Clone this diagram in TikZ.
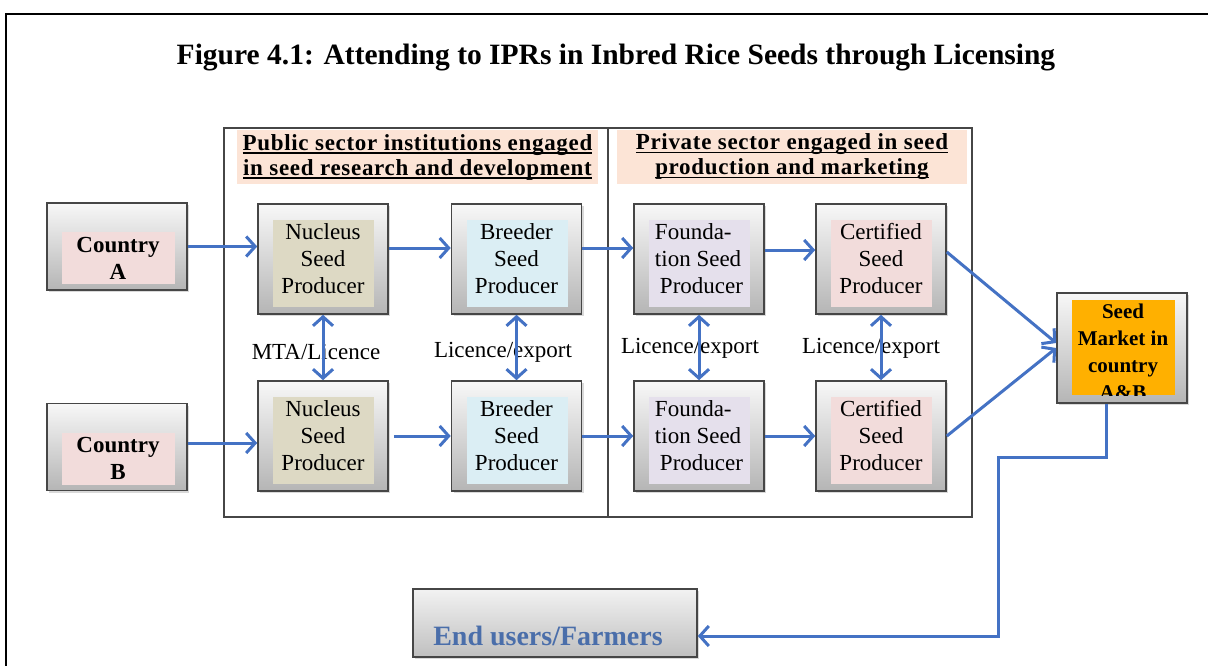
\documentclass[tikz,border=0pt]{standalone}
\usepackage{fontspec}
\setmainfont{Liberation Serif}
\newcommand\ulbar[1]{\setbox0\hbox{#1}\rlap{\rule[-3.5pt]{\wd0}{1.6pt}}\box0}
\usetikzlibrary{arrows.meta,shadows}
\definecolor{flowblue}{RGB}{68,114,196}
\definecolor{boxedge}{RGB}{70,70,70}
\definecolor{pinkfill}{RGB}{242,220,219}
\definecolor{tanfill}{RGB}{221,217,196}
\definecolor{bluefill}{RGB}{219,238,244}
\definecolor{lilacfill}{RGB}{229,224,236}
\definecolor{marketfill}{RGB}{255,176,0}
\definecolor{peachfill}{RGB}{252,228,214}
\definecolor{userblue}{RGB}{74,110,170}
\newcommand\cellfont{\fontsize{23}{27}\selectfont}
\newcommand\cellbold{\fontsize{23}{27}\selectfont\bfseries}
\newcommand\hdrfont{\fontsize{23}{25}\selectfont\bfseries\addfontfeatures{LetterSpace=3}}
\newcommand\ttlfont{\fontsize{29.5}{32}\selectfont\bfseries}
\newcommand\usrfont{\fontsize{28}{30}\selectfont\bfseries}
\newcommand\mktfont{\fontsize{21}{27}\selectfont\bfseries}
\tikzset{
  flow/.style={draw=flowblue, line width=3pt, -{Straight Barb[length=9pt,width=20pt]}},
  twoway/.style={flow, {Straight Barb[length=9pt,width=20pt]}-{Straight Barb[length=9pt,width=20pt]}},
  framebox/.style={draw=boxedge, line width=1.6pt, top color=gray!6, bottom color=gray!58,
    drop shadow={shadow xshift=2pt,shadow yshift=-2pt,opacity=.3}, inner sep=0pt},
  seedbox/.style={framebox, minimum width=130pt, minimum height=110pt, align=center, font=\cellfont,
    path picture={\fill[#1] ([xshift=15pt,yshift=-16pt]path picture bounding box.north west)
      rectangle ([xshift=-14pt,yshift=7pt]path picture bounding box.south east);}},
  countrybox/.style={framebox, minimum width=140pt, minimum height=87pt,
    path picture={\fill[pinkfill] ([xshift=15pt,yshift=-29pt]path picture bounding box.north west)
      rectangle ([xshift=-12pt,yshift=6pt]path picture bounding box.south east);}},
  marketbox/.style={framebox, minimum width=130pt, minimum height=110pt,
    path picture={\fill[marketfill] ([xshift=15pt,yshift=-7pt]path picture bounding box.north west)
      rectangle ([xshift=-12pt,yshift=8pt]path picture bounding box.south east);}},
  hdrband/.style={fill=peachfill, minimum height=54pt, align=center, font=\hdrfont, inner sep=0pt},
  lbl/.style={font=\cellfont, inner sep=0pt},
  panelline/.style={draw=boxedge, line width=1.5pt}
}
\begin{document}
\begin{tikzpicture}[x=1pt,y=-1pt]
\useasboundingbox (0,0) rectangle (1208,666);
\draw[line width=1.5pt] (6,666) -- (6,14) -- (1208,14);
\node[font=\ttlfont] (title) at (616,58) {Figure 4.1: Attending to IPRs in Inbred Rice Seeds through Licensing};

% public and private panels
\draw[panelline] (224,128) rectangle (972,517);
\draw[panelline] (608,128) -- (608,517);
\node[hdrband, minimum width=361pt] (pubhdr) at (417.5,157) {\ulbar{Public sector institutions engaged}\\\ulbar{in seed research and development}};
\node[hdrband, minimum width=350pt] (prvhdr) at (792,157) {\ulbar{Private sector engaged in seed}\\\ulbar{production and marketing}};

% countries
\node[countrybox] (cA) at (117,246.5) {};
\node[font=\cellbold, align=center] (cAtxt) at (118,258.5) {Country\\A};
\node[countrybox] (cB) at (117,447) {};
\node[font=\cellbold, align=center] (cBtxt) at (118,458) {Country\\B};

% producers
\node[seedbox=tanfill] (nucA) at (323,259) {Nucleus\\Seed\\Producer};
\node[seedbox=bluefill] (brdA) at (516.5,259) {Breeder\\Seed\\Producer};
\node[seedbox=lilacfill, align=left] (fndA) at (699,259) {Founda-\\tion Seed\\\hspace{5pt}Producer};
\node[seedbox=pinkfill] (crtA) at (881,259) {Certified\\Seed\\Producer};
\node[seedbox=tanfill] (nucB) at (323,436) {Nucleus\\Seed\\Producer};
\node[seedbox=bluefill] (brdB) at (516.5,436) {Breeder\\Seed\\Producer};
\node[seedbox=lilacfill, align=left] (fndB) at (699,436) {Founda-\\tion Seed\\\hspace{5pt}Producer};
\node[seedbox=pinkfill] (crtB) at (881,436) {Certified\\Seed\\Producer};

% market and users
\node[marketbox] (mkt) at (1122,348) {};
\begin{scope}
\clip (1072,300) rectangle (1175,395);
\node[font=\mktfont, align=center] (mkttxt) at (1123,352) {Seed\\Market in\\country\\A\&B};
\end{scope}
\node[framebox, top color=gray!10, bottom color=gray!50, minimum width=284pt, minimum height=68pt] (usr) at (555,623) {};
\node[font=\usrfont, text=userblue] (usrtxt) at (548,636) {End users/Farmers};

% labels
\node[lbl] (lbl1) at (316,352) {MTA/Licence};
\node[lbl] (lbl2) at (503,352) {Licence/export};
\node[lbl] (lbl3) at (690,348) {Licence/export};
\node[lbl] (lbl4) at (871,348) {Licence/export};

% flows
\draw[flow] (cA.east) -- (cA.east -| nucA.west);
\draw[flow] ([yshift=11pt]nucA.east) -- ([yshift=11pt]brdA.west);
\draw[flow] ([yshift=11pt]brdA.east) -- ([yshift=11pt]fndA.west);
\draw[flow] ([yshift=9pt]fndA.east) -- ([yshift=9pt]crtA.west);
\draw[flow] ([yshift=7pt]crtA.east) -- ([yshift=5pt]mkt.west);
\draw[flow] ([yshift=4pt]cB.east) -- ([yshift=4pt]cB.east -| nucB.west);
\draw[flow] ([xshift=5pt]nucB.east) -- (brdB.west);
\draw[flow] (brdB.east) -- (fndB.west);
\draw[flow] (fndB.east) -- (crtB.west);
\draw[flow] (crtB.east) -- (mkt.west);
\draw[twoway] (nucA.south) -- (nucB.north);
\draw[twoway] (brdA.south) -- (brdB.north);
\draw[twoway] (fndA.south) -- (fndB.north);
\draw[twoway] (crtA.south) -- (crtB.north);
\coordinate (bend) at (998,457);
\draw[flow] ([xshift=-16pt]mkt.south) |- (bend) |- ([yshift=-13pt]usr.east);
\end{tikzpicture}
\end{document}
